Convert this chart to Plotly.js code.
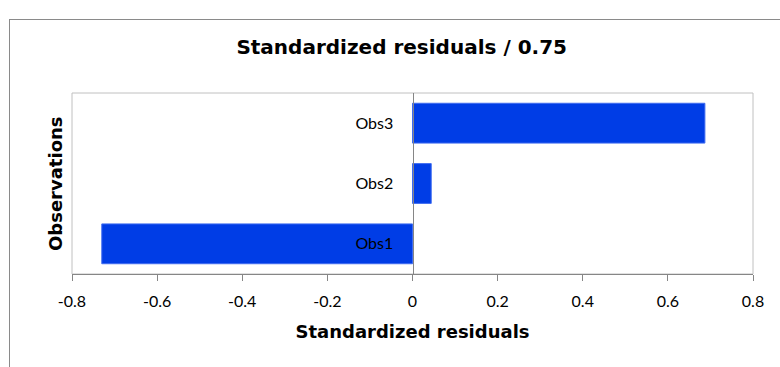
<!DOCTYPE html>
<html>
<head>
<meta charset="utf-8">
<script src="https://cdn.plot.ly/plotly-3.0.1.min.js"></script>
<style>
  html, body { margin: 0; padding: 0; background: #ffffff; overflow: hidden; }
  #chart { position: absolute; left: 0; top: 0; width: 780px; height: 367px; }
  #frame { position: absolute; left: 9px; top: 19px; width: 820px; height: 420px;
           border: 1px solid #8a8a8a; pointer-events: none; }
</style>
</head>
<body>
<div id="chart"></div>
<div id="frame"></div>
<script>
// Data
const categories = ["Obs1", "Obs2", "Obs3"];
const residuals = [-0.73, 0.044, 0.687];
const xTickVals = [-0.8, -0.6, -0.4, -0.2, 0, 0.2, 0.4, 0.6, 0.8];
const xTickText = ["-0.8", "-0.6", "-0.4", "-0.2", "0", "0.2", "0.4", "0.6", "0.8"];
const chartTitle = "Standardized residuals / 0.75";
const xTitle = "Standardized residuals";
const yTitle = "Observations";

const trace = {
  type: "bar",
  orientation: "h",
  x: residuals,
  y: categories,
  marker: { color: "#003de6", line: { color: "#3f6cf0", width: 1 } },
  hoverinfo: "skip"
};

const layout = {
  width: 780,
  height: 367,
  margin: { l: 72, r: 27, t: 93, b: 93 },
  paper_bgcolor: "#ffffff",
  plot_bgcolor: "#ffffff",
  showlegend: false,
  bargap: 0.34,
  title: {
    text: "<b>" + chartTitle + "</b>",
    font: { family: "DejaVu Sans", size: 20, color: "#000000" },
    xref: "container", x: 0.515, xanchor: "center",
    yref: "container", y: 1 - 47 / 367, yanchor: "middle"
  },
  xaxis: {
    range: [-0.8, 0.8],
    tickvals: xTickVals,
    ticktext: xTickText,
    showgrid: false,
    zeroline: false,
    showline: true,
    linecolor: "#868686",
    linewidth: 1,
    ticks: "outside",
    ticklen: 6,
    tickcolor: "#868686",
    ticklabelstandoff: 7,
    tickfont: { family: "Lato", size: 16, color: "#000000" },
    title: {
      text: "<b>" + xTitle + "</b>",
      font: { family: "DejaVu Sans", size: 18, color: "#000000" },
      standoff: 16
    }
  },
  yaxis: {
    type: "category",
    anchor: "free",
    position: 0.5,
    showgrid: false,
    zeroline: false,
    showline: true,
    linecolor: "#868686",
    linewidth: 1,
    ticks: "",
    ticklabelstandoff: 16,
    tickfont: { family: "Lato", size: 16, color: "#000000" }
  },
  shapes: [{
    type: "rect", xref: "paper", yref: "paper",
    x0: 0, x1: 1, y0: 0, y1: 1,
    line: { color: "#c0c0c0", width: 1 },
    layer: "below"
  }],
  annotations: [{
    text: "<b>" + yTitle + "</b>",
    font: { family: "DejaVu Sans", size: 18, color: "#000000" },
    textangle: -90,
    xref: "paper", yref: "paper",
    x: 0, xshift: -4, xanchor: "right",
    y: 0.5, yanchor: "middle",
    showarrow: false
  }]
};

Plotly.newPlot("chart", [trace], layout, { staticPlot: true, displayModeBar: false });
</script>
</body>
</html>
